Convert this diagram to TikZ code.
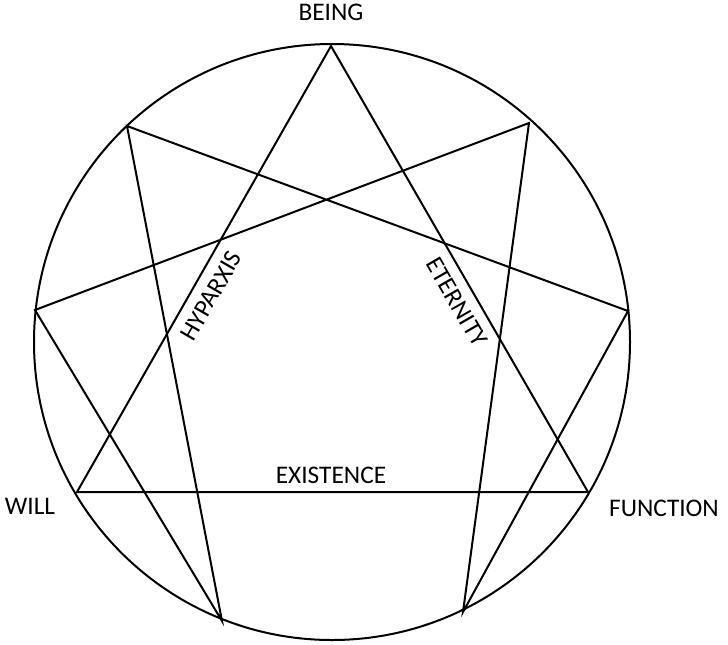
\documentclass[tikz,border=0pt]{standalone}
\usepackage{fontspec}
\setmainfont{Carlito}
\begin{document}
\begin{tikzpicture}[x=0.75pt,y=-0.75pt,line width=1.5pt,
  lbl/.style={font=\fontsize{19}{19}\selectfont,inner sep=0pt}]
\useasboundingbox (0,0) rectangle (728,644);
\coordinate (c) at (332,342);
\draw (c) circle[radius=298];
\coordinate (T) at (331,46);
\coordinate (UL) at (127,126);
\coordinate (UR) at (529,123);
\coordinate (L) at (35,310);
\coordinate (R) at (628,311);
\coordinate (BL) at (222,621);
\coordinate (BR) at (463,612);
\coordinate (W) at (77,492);
\coordinate (F) at (588,492);
\draw (T) -- (W) -- (F) -- cycle;
\draw (UL) -- (BL) -- (L) -- (UR) -- (BR) -- (R) -- cycle;
\node[lbl] (being) at (331,12) {BEING};
\node[lbl] (will) at (30,506) {WILL};
\node[lbl] (func) at (664,508) {FUNCTION};
\node[lbl] (exist) at (331,475) {EXISTENCE};
\node[lbl,rotate=60] (hyp) at (211,296) {HYPARXIS};
\node[lbl,rotate=-60] (eter) at (457,302) {ETERNITY};
\end{tikzpicture}
\end{document}
